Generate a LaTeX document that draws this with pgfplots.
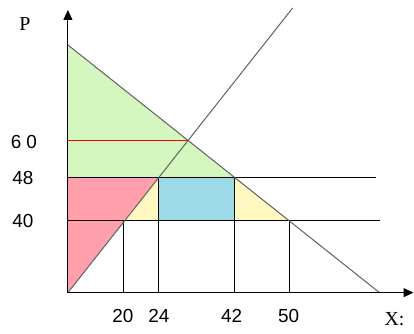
\documentclass[border=0pt]{standalone}
\usepackage{fontspec}
\setmainfont{Liberation Serif}
\newfontfamily\numfont{Liberation Sans}
\usepackage{pgfplots}
\pgfplotsset{compat=1.18}
\usetikzlibrary{arrows.meta}
\definecolor{cgreen}{RGB}{212,247,192}
\definecolor{cpink}{RGB}{255,160,172}
\definecolor{cyellow}{RGB}{255,248,192}
\definecolor{cblue}{RGB}{156,218,232}
\definecolor{cline}{RGB}{96,96,96}
\begin{document}
\begin{tikzpicture}
\begin{axis}[
  x=1bp, y=1bp,
  xmin=-68, xmax=346, ymin=-41, ymax=293,
  hide axis, clip=false]
\path (rel axis cs:0,0) rectangle (rel axis cs:1,1);
% shaded areas (plot units are not to scale, as in the original sketch)
\addplot[fill=cgreen, draw=none] coordinates {(0,248)(0,115)(167,115)} -- cycle;
\addplot[fill=cpink, draw=none] coordinates {(0,115)(91,115)(0,0)} -- cycle;
\addplot[fill=cyellow, draw=none] coordinates {(56,72)(91,72)(91,115)} -- cycle;
\addplot[fill=cblue, draw=none] coordinates {(91,72)(167,72)(167,115)(91,115)} -- cycle;
\addplot[fill=cyellow, draw=none] coordinates {(167,115)(167,72)(222,72)} -- cycle;
% price lines
\addplot[red, line width=0.9bp] coordinates {(0,152)(120,152)};
\addplot[black, line width=0.9bp] coordinates {(0,115)(308,115)};
\addplot[black, line width=0.9bp] coordinates {(0,72)(312,72)};
% quantity lines
\addplot[black, line width=0.9bp] coordinates {(56,0)(56,72)};
\addplot[black, line width=0.9bp] coordinates {(91,0)(91,115)};
\addplot[black, line width=0.9bp] coordinates {(167,0)(167,115)};
\addplot[black, line width=0.9bp] coordinates {(222,0)(222,72)};
% demand and supply
\addplot[cline, line width=1bp] coordinates {(0,248)(312,0)};
\addplot[cline, line width=1bp] coordinates {(0,0)(225,285)};
% axes
\addplot[black, line width=1bp, -{Triangle[length=10bp,width=9bp]}] coordinates {(0,0)(0,283)};
\addplot[black, line width=1bp, -{Triangle[length=10bp,width=9bp]}] coordinates {(0,0)(346,0)};
% labels
\begin{scope}[font=\numfont\fontsize{19}{21}\selectfont]
\node at (axis cs:-44,151) {6\kern5bp 0};
\node at (axis cs:-45,115) {48};
\node at (axis cs:-45,72) {40};
\node at (axis cs:55,-23) {20};
\node at (axis cs:91,-23) {24};
\node at (axis cs:164,-23) {42};
\node at (axis cs:221,-23) {50};
\end{scope}
\node[font=\fontsize{20}{22}\selectfont] at (axis cs:-43,269) {P};
\node[font=\fontsize{20}{22}\selectfont] at (axis cs:327,-27) {X:};
\end{axis}
\end{tikzpicture}
\end{document}
